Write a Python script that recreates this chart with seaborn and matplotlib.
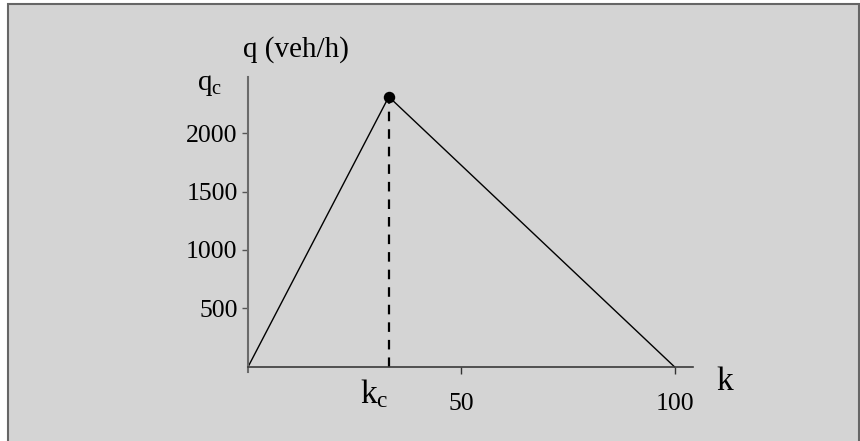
import matplotlib
matplotlib.use("Agg")
import matplotlib.pyplot as plt
import matplotlib.transforms as mtransforms
import seaborn as sns
import pandas as pd
from matplotlib.patches import Rectangle

# Triangular flow-density diagram
density = [0, 33, 100]          # k
flow = [0, 2310, 0]             # q (veh/h)
k_crit = 33
q_cap = 2310
x_ticks = [50, 100]
y_ticks = [500, 1000, 1500, 2000]

sns.set_theme(style="white")
plt.rcParams["font.family"] = ["Liberation Serif", "DejaVu Serif"]
plt.rcParams["mathtext.fontset"] = "custom"
plt.rcParams["mathtext.rm"] = "Liberation Serif"
plt.rcParams["text.color"] = "black"

W, H = 860, 441
fig = plt.figure(figsize=(W / 100, H / 100), dpi=100, facecolor="white")

# framed grey panel
fig.patches.append(Rectangle((7.5 / W, -0.05), (858.5 - 7.5) / W, 1.05 - 4.5 / H,
                             transform=fig.transFigure, facecolor="#d4d4d4",
                             edgecolor="#666666", linewidth=1.5, zorder=-10))

ax = fig.add_axes([248 / W, (H - 372) / H, (693 - 248) / W, (372 - 77) / H])
ax.set_zorder(1)
ax.set_facecolor("none")
ax.set_xlim(0, 104.3)
ax.set_ylim(-43, 2479)

df = pd.DataFrame({"k": density, "q": flow})
sns.lineplot(data=df, x="k", y="q", color="black", linewidth=1.0,
             estimator=None, sort=False, ax=ax)
ax.plot([k_crit, k_crit], [0, q_cap], color="black", linewidth=1.6,
        linestyle=(0, (4.3, 3.6)))
sns.scatterplot(x=[k_crit], y=[q_cap], color="black", s=68,
                edgecolor="black", linewidth=0, ax=ax, zorder=5)

for side in ("top", "right"):
    ax.spines[side].set_visible(False)
ax.spines["left"].set_color("#6a6a6a")
ax.spines["left"].set_linewidth(1.5)
ax.spines["bottom"].set_position(("data", 0))
ax.spines["bottom"].set_color("#3a3a3a")
ax.spines["bottom"].set_linewidth(1.2)

ax.set_xticks(x_ticks)
ax.set_yticks(y_ticks)
ax.set_xticklabels([str(v) for v in x_ticks])
ax.set_yticklabels([str(v) for v in y_ticks])
ax.tick_params(axis="y", left=True, direction="out", length=4.5, width=1,
               color="#555555", pad=3, labelsize=18.5, labelcolor="black")
ax.tick_params(axis="x", bottom=True, direction="out", length=5, width=1,
               color="#333333", pad=14, labelsize=18.5, labelcolor="black")
ax.set_xlabel("")
ax.set_ylabel("")

def px(x, y):
    return x / W, 1 - y / H

fig.text(*px(296, 57), "q (veh/h)", ha="center", va="baseline", fontsize=21)
fig.text(*px(197, 90), r"$\mathregular{q_c}$", ha="left", va="baseline", fontsize=21)
fig.text(*px(716, 390), "k", ha="left", va="baseline", fontsize=24)
# critical density label just below the axis, right edge on the dashed line
ax.text(k_crit, 0, r"$\mathregular{k_c}$", ha="right", va="baseline", fontsize=24,
        transform=ax.transData + mtransforms.ScaledTranslation(0, -0.36, fig.dpi_scale_trans))

fig.savefig("out.png", dpi=100, facecolor="white")
